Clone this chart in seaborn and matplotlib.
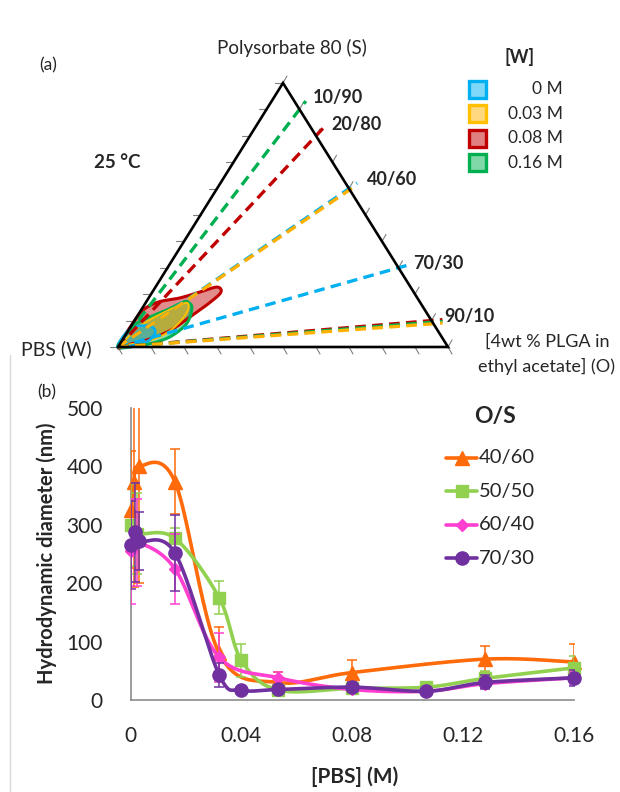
import numpy as np
import pandas as pd
import seaborn as sns
import matplotlib
matplotlib.use("Agg")
import matplotlib.pyplot as plt
from matplotlib.lines import Line2D
from matplotlib.patches import Rectangle

# ---------------- panel (b) data: hydrodynamic diameter vs [PBS] ----------------
os_labels = ["40/60", "50/50", "60/40", "70/30"]
os_colors = ["#ff6a0a", "#92d050", "#ff3fcf", "#7030a0"]
os_markers = ["^", "s", "D", "o"]
os_msize = [9.5, 8.5, 6, 9.5]

pbs_4060 = [0, 0.0012, 0.003, 0.016, 0.032, 0.0533, 0.08, 0.128, 0.16]
d_4060 = [326, 374, 400, 374, 80, 30, 47, 70, 65]
e_4060 = [100, 180, 200, 55, 45, 18, 21, 22, 31]

pbs_5050 = [0, 0.0025, 0.016, 0.032, 0.04, 0.0533, 0.08, 0.1067, 0.128, 0.16]
d_5050 = [300, 285, 277, 175, 68, 17, 20, 22, 37, 55]
e_5050 = [70, 70, 18, 28, 28, 5, 8, 5, 12, 20]

pbs_6040 = [0, 0.0025, 0.016, 0.032, 0.0533, 0.08, 0.1067, 0.128, 0.16]
d_6040 = [255, 270, 225, 73, 38, 18, 15, 28, 38]
e_6040 = [90, 75, 60, 42, 10, 5, 4, 8, 10]

pbs_7030 = [0, 0.0015, 0.003, 0.016, 0.032, 0.04, 0.0533, 0.08, 0.1067, 0.128, 0.16]
d_7030 = [265, 287, 272, 252, 43, 17, 18, 22, 15, 30, 38]
e_7030 = [75, 85, 50, 65, 20, 5, 5, 8, 4, 12, 14]

x_ticks = [0, 0.04, 0.08, 0.12, 0.16]
x_ticklabels = ["0", "0.04", "0.08", "0.12", "0.16"]
y_ticks = [0, 100, 200, 300, 400, 500]

# ---------------- panel (a) data: ternary diagram ----------------
# O/S ratio lines drawn from the PBS corner, O fraction on the S-O edge
ratio_labels = ["10/90", "20/80", "40/60", "70/30", "90/10"]
ratio_O = [0.1, 0.2, 0.4, 0.7, 0.9]
ratio_colors = [["#00b050"], ["#c00000"], ["#00b0f0", "#ffb000"], ["#00b0f0"],
                ["#c00000", "#00b050", "#ffb000"]]
ratio_offsets = [(13, 12), (15, 11), (18, 9), (15, 4), (13, 4)]

w_labels = ["0 M", "0.03 M", "0.08 M", "0.16 M"]
w_edge = ["#00b0f0", "#ffc000", "#c00000", "#00b050"]
w_fill = ["#00b0f0", "#ffc000", "#c00000", "#00b050"]
w_legfill = ["#80d8f8", "#ffd880", "#e08080", "#80d8a8"]

# single-phase region outlines as (O fraction, S fraction)
blob_O = {
    "0.08 M": [0.0, 0.0, 0.006, 0.036, 0.095, 0.144, 0.186, 0.208, 0.196, 0.165, 0.130, 0.085, 0.030],
    "0.03 M": [0.004, 0.027, 0.076, 0.122, 0.142, 0.140, 0.118, 0.072, 0.017],
    "0.16 M": [0.0, 0.0, 0.012, 0.040, 0.078, 0.112, 0.127, 0.150, 0.164, 0.144, 0.108, 0.056],
    "0 M": [0.0, 0.0, 0.027, 0.065, 0.086, 0.080, 0.048],
}
blob_S = {
    "0.08 M": [0.0, 0.09, 0.140, 0.170, 0.186, 0.208, 0.227, 0.208, 0.172, 0.120, 0.066, 0.032, 0.010],
    "0.03 M": [0.004, 0.080, 0.133, 0.167, 0.140, 0.095, 0.049, 0.019, 0.008],
    "0.16 M": [0.0, 0.055, 0.091, 0.114, 0.140, 0.170, 0.170, 0.148, 0.091, 0.045, 0.019, 0.004],
    "0 M": [0.0, 0.064, 0.080, 0.076, 0.053, 0.023, 0.008],
}
blob_order = ["0.08 M", "0.16 M", "0.03 M", "0 M"]
blob_alpha = {"0.08 M": 0.45, "0.16 M": 0.45, "0.03 M": 0.45, "0 M": 0.5}
blob_lw = {"0.08 M": 2.2, "0.16 M": 2.2, "0.03 M": 1.4, "0 M": 2.0}


def catmull(x, y, n=40, closed=False):
    p = np.column_stack([x, y]).astype(float)
    if closed:
        p = np.vstack([p[-1], p, p[0], p[1]])
    else:
        p = np.vstack([p[0], p, p[-1]])
    out = []
    t = np.linspace(0, 1, n)[:, None]
    for i in range(1, len(p) - 2):
        p0, p1, p2, p3 = p[i - 1], p[i], p[i + 1], p[i + 2]
        c1 = p1 + (p2 - p0) / 6
        c2 = p2 - (p3 - p1) / 6
        seg = ((1 - t) ** 3) * p1 + 3 * ((1 - t) ** 2) * t * c1 + 3 * (1 - t) * t ** 2 * c2 + t ** 3 * p2
        out.append(seg)
    out = np.vstack(out)
    return out[:, 0], out[:, 1]


def tern(o, s):
    o = np.asarray(o, float)
    s = np.asarray(s, float)
    return o + s / 2, s


sns.set_theme(style="white")
plt.rcParams["font.family"] = ["Lato", "DejaVu Sans"]

W, H = 620, 792
fig = plt.figure(figsize=(6.2, 7.92), dpi=100)


def fx(px):
    return px / W


def fy(py):
    return 1 - py / H


# ================= panel (a) =================
tx0, tx1, ty0, ty1 = 118, 448, 347, 83
ax_t = fig.add_axes([fx(tx0), fy(ty0), fx(tx1) - fx(tx0), fy(ty1) - fy(ty0)])
ax_t.set_xlim(0, 1)
ax_t.set_ylim(0, 1)
sx = 1 / (tx1 - tx0)
sy = 1 / (ty0 - ty1)

# triangle frame
ax_t.plot([0, 1, 0.5, 0], [0, 0, 1, 0], color="black", lw=1.9, clip_on=False, zorder=5,
          solid_joinstyle="miter")
# ternary ticks
tl = 8
tick_kw = dict(color="#7f7f7f", lw=0.8, clip_on=False, zorder=1)
for i in range(0, 11):
    f = i / 10
    ax_t.plot([f, f + 0.5 * tl * sx], [0, -0.87 * tl * sy], **tick_kw)
    ax_t.plot([f / 2, f / 2 - tl * sx], [f, f], **tick_kw)
    rx, ry = 1 - f / 2, f
    ax_t.plot([rx, rx + 0.5 * tl * sx], [ry, ry + 0.87 * tl * sy], **tick_kw)

# single-phase regions
for key in blob_order:
    k = w_labels.index(key)
    bx, by = tern(blob_O[key], blob_S[key])
    cx, cy = catmull(bx, by, closed=True)
    ax_t.fill(cx, cy, color=w_fill[k], alpha=blob_alpha[key], lw=0, zorder=2)
    ax_t.plot(cx, cy, color=w_edge[k], lw=blob_lw[key], zorder=3)

# O/S dilution lines
ext = 1.035
for lab, o, cols, off in zip(ratio_labels, ratio_O, ratio_colors, ratio_offsets):
    ex, ey = tern(o, 1 - o)
    for j, c in enumerate(cols):
        dy = -j * 1.7 * sy
        line_df = pd.DataFrame({"x": [0, ex * ext], "y": [0, ey * ext + dy]})
        sns.lineplot(data=line_df, x="x", y="y", ax=ax_t, color=c, lw=2.4,
                     linestyle=(0, (3.2, 1.9)), sort=False, estimator=None, zorder=4 + j * 0.1)
    ax_t.annotate(lab, xy=(ex, ey), xytext=off, textcoords="offset pixels", fontsize=13,
                  fontweight="bold", ha="left", va="center", annotation_clip=False)
for ln in ax_t.lines:
    ln.set_clip_on(False)
ax_t.axis("off")

fig.text(fx(48), fy(65), "(a)", fontsize=12.5, ha="center", va="center")
fig.text(fx(292), fy(48), "Polysorbate 80 (S)", fontsize=13.5, ha="center", va="center")
fig.text(fx(117), fy(162), "25 °C", fontsize=13.5, fontweight="bold", ha="center", va="center")
fig.text(fx(92), fy(349), "PBS (W)", fontsize=14, ha="right", va="center")
fig.text(fx(547), fy(342), "[4wt % PLGA in", fontsize=13, ha="center", va="center")
fig.text(fx(547), fy(366), "ethyl acetate] (O)", fontsize=13, ha="center", va="center")

# legend (a)
fig.text(fx(520), fy(57), "[W]", fontsize=13, fontweight="bold", ha="center", va="center")
for k, lab in enumerate(w_labels):
    yc = 89 + k * 24.6
    fig.add_artist(Rectangle((fx(469), fy(yc + 8.5)), fx(17), fy(yc - 8.5) - fy(yc + 8.5),
                             facecolor=w_legfill[k], edgecolor=w_edge[k], lw=2.4,
                             transform=fig.transFigure))
    fig.text(fx(563), fy(yc), lab, fontsize=12.5, ha="right", va="center")

# ================= panel (b) =================
ax_l, ax_r, ax_b, ax_tp = 130.5, 574, 700, 408
ax = fig.add_axes([fx(ax_l), fy(ax_b), fx(ax_r) - fx(ax_l), fy(ax_tp) - fy(ax_b)])
series = [(pbs_4060, d_4060, e_4060), (pbs_5050, d_5050, e_5050),
          (pbs_6040, d_6040, e_6040), (pbs_7030, d_7030, e_7030)]
for i, (xs, ys, es) in enumerate(series):
    cx, cy = catmull(xs, ys)
    cdf = pd.DataFrame({"x": cx, "y": cy})
    sns.lineplot(data=cdf, x="x", y="y", ax=ax, color=os_colors[i], lw=2.6,
                 sort=False, estimator=None, zorder=3 + i)
    eb = ax.errorbar(xs, ys, yerr=es, fmt=os_markers[i], color=os_colors[i], ms=os_msize[i],
                     ecolor=os_colors[i], elinewidth=1.1, capsize=3.6, capthick=1.1,
                     zorder=3 + i)
    eb[0].set_clip_on(False)

ax.set_xlim(0, 0.16)
ax.set_ylim(0, 500)
ax.set_xticks(x_ticks)
ax.set_xticklabels(x_ticklabels)
ax.set_yticks(y_ticks)
ax.tick_params(axis="x", direction="out", length=6, width=1, color="#8c8c8c", pad=12.5, labelsize=15)
ax.tick_params(axis="y", direction="out", length=6.5, width=1, color="#8c8c8c", pad=13.5, labelsize=15)
for sp in ["top", "right"]:
    ax.spines[sp].set_visible(False)
for sp in ["left", "bottom"]:
    ax.spines[sp].set_color("#8c8c8c")
    ax.spines[sp].set_linewidth(1.2)
aw, ah = ax_r - ax_l, ax_b - ax_tp
ax.set_xlabel("[PBS] (M)", fontsize=15, fontweight="bold", va="center")
ax.xaxis.set_label_coords((355 - ax_l) / aw, -(777 - ax_b) / ah)
ax.set_ylabel("Hydrodynamic diameter (nm)", fontsize=14.5, fontweight="bold", va="center")
ax.yaxis.set_label_coords((47 - ax_l) / aw, (ax_b - 553) / ah)

# legend (b)
fig.text(fx(495), fy(417), "O/S", fontsize=16.5, fontweight="bold", ha="center", va="center")
for i, lab in enumerate(os_labels):
    yc = 458 + i * 33.4
    fig.add_artist(Line2D([fx(446), fx(477)], [fy(yc), fy(yc)], color=os_colors[i], lw=2.6,
                          transform=fig.transFigure))
    fig.add_artist(Line2D([fx(461.5)], [fy(yc)], color=os_colors[i], marker=os_markers[i],
                          ms=os_msize[i], lw=0, transform=fig.transFigure))
    fig.text(fx(479), fy(yc), lab, fontsize=14.5, ha="left", va="center")

fig.add_artist(Line2D([fx(10), fx(10)], [fy(355), fy(792)], color="#d9d9d9", lw=1,
                      transform=fig.transFigure))
fig.text(fx(47), fy(392), "(b)", fontsize=12.5, ha="center", va="center")

fig.savefig("out.png", dpi=100)
